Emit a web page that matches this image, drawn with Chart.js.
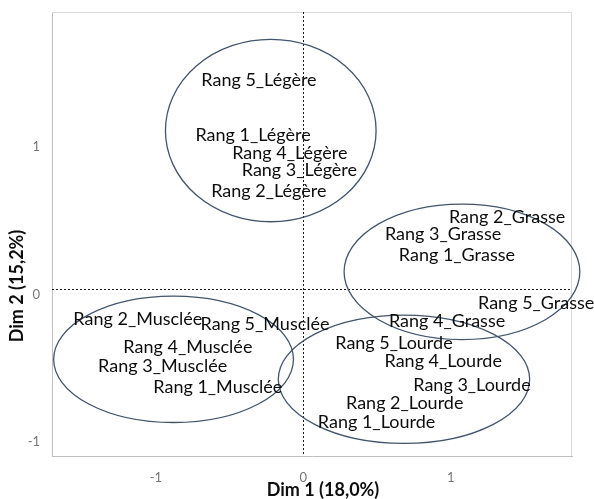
<!DOCTYPE html>
<html><head><meta charset="utf-8">
<script src="https://cdn.jsdelivr.net/npm/chart.js@4/dist/chart.umd.min.js"></script>
<style>html,body{margin:0;padding:0;background:#fff}#wrap{width:594px;height:499px;position:relative}</style>
</head><body><div id="wrap"><canvas id="c" width="594" height="499"></canvas></div>
<script>
const labels = ['Rang 5_Légère','Rang 1_Légère','Rang 4_Légère','Rang 3_Légère','Rang 2_Légère',
  'Rang 2_Grasse','Rang 3_Grasse','Rang 1_Grasse','Rang 5_Grasse','Rang 4_Grasse',
  'Rang 5_Lourde','Rang 4_Lourde','Rang 3_Lourde','Rang 2_Lourde','Rang 1_Lourde',
  'Rang 5_Musclée','Rang 2_Musclée','Rang 4_Musclée','Rang 3_Musclée','Rang 1_Musclée'];
const xValues = [-0.301,-0.341,-0.092,-0.027,-0.234,
  1.381,0.947,1.041,1.578,0.974,
  0.614,0.948,1.143,0.687,0.496,
  -0.260,-1.122,-0.783,-0.954,-0.580];
const yValues = [1.418,1.045,0.921,0.804,0.668,
  0.492,0.373,0.232,-0.095,-0.215,
  -0.366,-0.486,-0.648,-0.772,-0.901,
  -0.235,-0.201,-0.393,-0.518,-0.660];
const groups = ['Légère','Grasse','Lourde','Musclée'];
const ellipseCx = [-0.221, 1.075, 0.682, -0.880];
const ellipseCy = [1.076, 0.119, -0.609, -0.474];
const ellipseRx = [0.714, 0.799, 0.852, 0.813];
const ellipseRy = [0.618, 0.459, 0.435, 0.428];
const tickValues = [-1, 0, 1];
const xTitle = 'Dim 1 (18,0%)';
const yTitle = 'Dim 2 (15,2%)';

const points = xValues.map((x, i) => ({x: x, y: yValues[i]}));

const decor = {
  id: 'decor',
  beforeDatasetsDraw(chart) {
    const {ctx, chartArea: a, scales: {x, y}} = chart;
    ctx.save();
    ctx.strokeStyle = '#d9d9d9';
    ctx.lineWidth = 1;
    ctx.beginPath();
    ctx.moveTo(a.left, a.top + 0.5); ctx.lineTo(a.right, a.top + 0.5);
    ctx.moveTo(a.right - 0.5, a.top); ctx.lineTo(a.right - 0.5, a.bottom);
    ctx.stroke();
    ctx.strokeStyle = '#1a1a1a';
    ctx.setLineDash([2, 2]);
    const x0 = Math.round(x.getPixelForValue(0)) + 0.5;
    const y0 = Math.round(y.getPixelForValue(0)) + 0.5;
    ctx.beginPath();
    ctx.moveTo(x0, a.top); ctx.lineTo(x0, a.bottom);
    ctx.moveTo(a.left, y0); ctx.lineTo(a.right, y0);
    ctx.stroke();
    ctx.setLineDash([]);
    ctx.strokeStyle = '#44546a';
    ctx.lineWidth = 1.3;
    groups.forEach((g, i) => {
      const cx = x.getPixelForValue(ellipseCx[i]);
      const cy = y.getPixelForValue(ellipseCy[i]);
      const rx = Math.abs(x.getPixelForValue(ellipseCx[i] + ellipseRx[i]) - cx);
      const ry = Math.abs(y.getPixelForValue(ellipseCy[i] + ellipseRy[i]) - cy);
      ctx.beginPath();
      ctx.ellipse(cx, cy, rx, ry, 0, 0, Math.PI * 2);
      ctx.stroke();
    });
    ctx.restore();
  },
  afterDatasetsDraw(chart) {
    const {ctx} = chart;
    const meta = chart.getDatasetMeta(0);
    ctx.save();
    ctx.fillStyle = '#0d0d0d';
    ctx.font = '18px Lato';
    ctx.textAlign = 'center';
    ctx.textBaseline = 'middle';
    meta.data.forEach((pt, i) => {
      ctx.fillText(labels[i], pt.x, pt.y);
    });
    ctx.font = 'bold 18px Lato';
    ctx.fillText(xTitle, 323, 490);
    ctx.translate(17, 286);
    ctx.rotate(-Math.PI / 2);
    ctx.fillText(yTitle, 0, 0);
    ctx.restore();
  }
};

new Chart(document.getElementById('c'), {
  type: 'scatter',
  data: { datasets: [{ data: points, pointRadius: 0, pointHoverRadius: 0, showLine: false }] },
  options: {
    responsive: false,
    animation: false,
    devicePixelRatio: 1,
    layout: { padding: { top: 12, right: 22, left: 0, bottom: 0 } },
    plugins: { legend: { display: false }, tooltip: { enabled: false } },
    scales: {
      x: {
        type: 'linear', min: -1.704, max: 1.821,
        afterBuildTicks: s => { s.ticks = tickValues.map(v => ({ value: v })); },
        afterFit: s => { s.height = 43; },
        grid: { display: false },
        border: { display: true, color: '#bfbfbf', width: 1 },
        ticks: { color: '#767676', font: { family: 'Lato', size: 13 }, padding: 6, autoSkip: false, maxRotation: 0, callback: v => String(v) }
      },
      y: {
        type: 'linear', min: -1.129, max: 1.879,
        afterBuildTicks: s => { s.ticks = tickValues.map(v => ({ value: v })); },
        afterFit: s => { s.width = 52; },
        grid: { display: false },
        border: { display: true, color: '#bfbfbf', width: 1 },
        ticks: { color: '#767676', font: { family: 'Lato', size: 13 }, padding: 4, labelOffset: 5, autoSkip: false, callback: v => String(v) }
      }
    }
  },
  plugins: [decor]
});
</script>
</body></html>
